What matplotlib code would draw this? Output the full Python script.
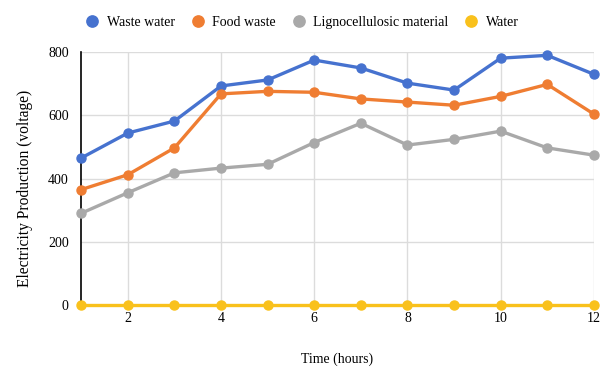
import matplotlib.pyplot as plt

hours = [1, 2, 3, 4, 5, 6, 7, 8, 9, 10, 11, 12]
waste_water = [465, 544, 582, 693, 712, 775, 750, 702, 680, 781, 790, 730]
food_waste = [365, 412, 497, 668, 676, 673, 652, 642, 632, 660, 698, 604]
ligno = [290, 355, 418, 433, 445, 514, 575, 506, 524, 550, 497, 474]
water = [0, 0, 0, 0, 0, 0, 0, 0, 0, 0, 0, 0]

series = [
    ("Waste water", waste_water, "#4672cf"),
    ("Food waste", food_waste, "#ef7d32"),
    ("Lignocellulosic material", ligno, "#a9a9a9"),
    ("Water", water, "#f9c11c"),
]

plt.rcParams["font.family"] = ["Liberation Serif", "DejaVu Serif"]

fig = plt.figure(figsize=(6.06, 3.7), dpi=100)
ax = fig.add_axes([0.134, 0.176, 0.846, 0.683])

for name, vals, color in series:
    ax.plot(hours, vals, color=color, linewidth=2.4, marker="o",
            markersize=6.5, label=name, clip_on=False, zorder=3)

ax.set_xlim(1, 12)
ax.set_ylim(0, 800)
ax.set_xticks([2, 4, 6, 8, 10, 12])
ax.set_yticks([0, 200, 400, 600, 800])
ax.grid(True, color="#dcdcdc", linewidth=1.0)
ax.set_axisbelow(True)
for s in ["top", "right", "bottom"]:
    ax.spines[s].set_visible(False)
ax.spines["left"].set_color("black")
ax.spines["left"].set_linewidth(1.2)
ax.tick_params(axis="y", length=0, labelsize=10, pad=9)
ax.tick_params(axis="x", length=0, labelsize=10, pad=5)

ax.set_xlabel("Time (hours)", fontsize=10, labelpad=20)
ax.set_ylabel("Electricity Production (voltage)", fontsize=11.2)
ax.yaxis.set_label_coords(-0.094, 0.46)

handles, labels = ax.get_legend_handles_labels()
leg = fig.legend(handles, labels, loc="center", bbox_to_anchor=(0.5, 0.94),
                 ncol=4, frameon=False, fontsize=10, handlelength=0.7,
                 handletextpad=0.7, columnspacing=1.3, markerscale=1.25)
for h in leg.get_lines():
    h.set_linestyle("none")

fig.savefig("out.png", dpi=100)
